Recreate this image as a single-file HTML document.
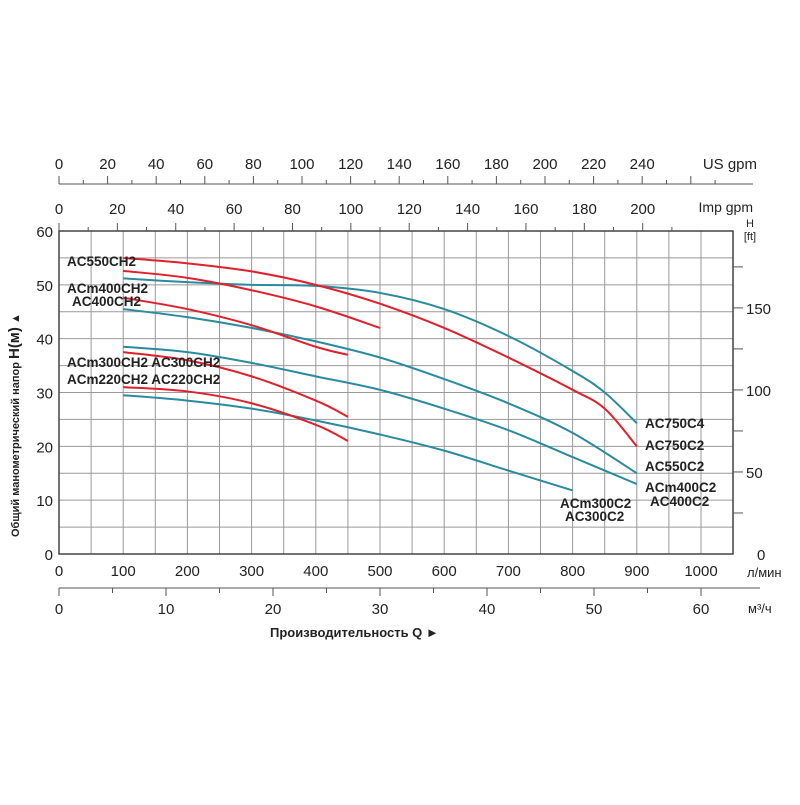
<!DOCTYPE html>
<html><head><meta charset="utf-8"><style>
body{margin:0;background:#fff}
svg text{font-family:"Liberation Sans",Arial,sans-serif;fill:#222}
.lbl{font-weight:bold;font-size:13.5px}
</style></head><body>
<svg id="c" width="800" height="800" viewBox="0 0 800 800"></svg>
<script>
const flowTicks=[0,100,200,300,400,500,600,700,800,900,1000];
const headTicks=[0,10,20,30,40,50,60];
const m3Ticks=[0,10,20,30,40,50,60];
const usTicks=[0,20,40,60,80,100,120,140,160,180,200,220,240];
const impTicks=[0,20,40,60,80,100,120,140,160,180,200];
const ftTicks=[0,50,100,150];
const flowR1=[100,200,300,400,500,600,700,800,850,900];
const headR1=[55,54,52.5,50,46.5,42,36.5,30.5,27,20];
const flowR2=[100,200,300,400,500];
const headR2=[52.6,51.3,49,46,42];
const flowR3=[100,200,300,400,450];
const headR3=[47.6,45.5,42.5,38.5,37];
const flowR4=[100,200,300,400,450];
const headR4=[37.5,36,33,28.5,25.5];
const flowR5=[100,200,300,400,450];
const headR5=[31,30.2,28,24,21];
const flowT1=[100,200,300,400,500,600,700,800,850,900];
const headT1=[51.2,50.5,50,49.8,48.5,45.5,40.5,34,30,24.3];
const flowT2=[100,200,300,400,500,600,700,800,900];
const headT2=[45.5,44,42,39.5,36.5,32.5,28,22.5,15];
const flowT3=[100,200,300,400,500,600,700,800,900];
const headT3=[38.5,37.5,35.5,33,30.5,27,23,18,13];
const flowT4=[100,200,300,400,500,600,700,800];
const headT4=[29.5,28.5,27,24.8,22.2,19.2,15.5,11.8];

const X0=59,PX=0.642,Y0=554,PY=5.383,XR=733,YT=231;
const xs=q=>X0+q*PX, ys=h=>Y0-h*PY;
const svg=document.getElementById('c');const NS='http://www.w3.org/2000/svg';
function mk(t,a,txt){const e=document.createElementNS(NS,t);for(const k in a)e.setAttribute(k,a[k]);if(txt!=null)e.textContent=txt;svg.appendChild(e);return e;}
for(let q=50;q<=1050;q+=50){const g=mk('line',{x1:xs(q),x2:xs(q),y1:YT,y2:Y0,stroke:'#999','stroke-width':1});

}
for(let h=5;h<60;h+=5){const g=mk('line',{x1:X0,x2:XR,y1:ys(h),y2:ys(h),stroke:'#999','stroke-width':1});

}
const fr=mk('rect',{x:X0,y:YT,width:XR-X0,height:Y0-YT,fill:'none',stroke:'#444','stroke-width':1.5});


headTicks.forEach(h=>{const t=mk('text',{x:53,y:ys(h)+6,'text-anchor':'end','font-size':15},h);

});
flowTicks.forEach(q=>{const t=mk('text',{x:xs(q),y:576,'text-anchor':'middle','font-size':15},q);

});
mk('text',{x:747,y:577,'font-size':13},'л/мин');
mk('line',{x1:X0,x2:760,y1:588,y2:588,stroke:'#555'});
for(let m=0;m<=60;m+=5){mk('line',{x1:xs(m*1000/60),x2:xs(m*1000/60),y1:588,y2:m%10?593:596,stroke:'#555'});}
m3Ticks.forEach(m=>{const t=mk('text',{x:xs(m*1000/60),y:614,'text-anchor':'middle','font-size':15},m);

});
mk('text',{x:748,y:613,'font-size':13},'м³/ч');
mk('text',{x:270,y:637,'font-size':13,'font-weight':'bold'},'Производительность Q   ►');
for(let g=0;g<=210;g+=10){mk('line',{x1:xs(g*4.546),x2:xs(g*4.546),y1:YT,y2:g%20?YT-4:YT-8,stroke:'#555'});}
impTicks.forEach(g=>{const t=mk('text',{x:xs(g*4.546),y:214,'text-anchor':'middle','font-size':15},g);

});
mk('text',{x:753,y:212,'text-anchor':'end','font-size':14},'Imp gpm');
mk('line',{x1:X0,x2:753,y1:184,y2:184,stroke:'#555'});
for(let g=0;g<=270;g+=10){mk('line',{x1:xs(g*3.785),x2:xs(g*3.785),y1:184,y2:g%20?180:176,stroke:'#555'});}
usTicks.forEach(g=>{const t=mk('text',{x:xs(g*3.785),y:169,'text-anchor':'middle','font-size':15},g);

});
mk('text',{x:757,y:169,'text-anchor':'end','font-size':15},'US gpm');
for(let f=25;f<=175;f+=25){mk('line',{x1:XR,x2:XR+10,y1:ys(f*0.3048),y2:ys(f*0.3048),stroke:'#555'});}
ftTicks.forEach(f=>{const t=mk('text',{x:f?746:757,y:ys(f*0.3048)+6,'font-size':15},f);

});
mk('text',{x:750,y:227,'font-size':11,'text-anchor':'middle'},'H');
mk('text',{x:750,y:240,'font-size':11,'text-anchor':'middle'},'[ft]');
const yt=mk('text',{x:0,y:0,'font-size':11,'font-weight':'bold',transform:'translate(19,537) rotate(-90)'});
yt.innerHTML='Общий манометрический напор  <tspan font-size="15">H(м)</tspan>  ▲';

function curve(fx,hy,col,name){const p=fx.map((q,i)=>[xs(q),ys(hy[i])]);let d='M'+p[0];
for(let i=0;i<p.length-1;i++){const a=p[i-1]||p[i],b=p[i],c=p[i+1],e=p[i+2]||c;
d+=' C'+(b[0]+(c[0]-a[0])/6)+','+(b[1]+(c[1]-a[1])/6)+' '+(c[0]-(e[0]-b[0])/6)+','+(c[1]-(e[1]-b[1])/6)+' '+c;}
const el=mk('path',{d,fill:'none',stroke:col,'stroke-width':2});

}
const R='#e0202c',T='#2a8b9e';
curve(flowT1,headT1,T,'curve-ac750c4');curve(flowT2,headT2,T,'curve-ac550c2');curve(flowT3,headT3,T,'curve-ac400c2');curve(flowT4,headT4,T,'curve-ac300c2');
curve(flowR1,headR1,R,'curve-ac750c2');curve(flowR2,headR2,R,'curve-ac550ch2');curve(flowR3,headR3,R,'curve-ac400ch2');curve(flowR4,headR4,R,'curve-ac300ch2');curve(flowR5,headR5,R,'curve-ac220ch2');
[[67,266,'AC550CH2'],[67,293,'ACm400CH2'],[72,306,'AC400CH2'],[67,367,'ACm300CH2 AC300CH2'],[67,384,'ACm220CH2 AC220CH2'],
[645,428,'AC750C4'],[645,450,'AC750C2'],[645,471,'AC550C2'],[645,492,'ACm400C2'],[650,506,'AC400C2'],[560,508,'ACm300C2'],[565,521,'AC300C2']]
.forEach(l=>{const t=mk('text',{x:l[0],y:l[1],class:'lbl'},l[2]);

});
</script>
</body></html>
